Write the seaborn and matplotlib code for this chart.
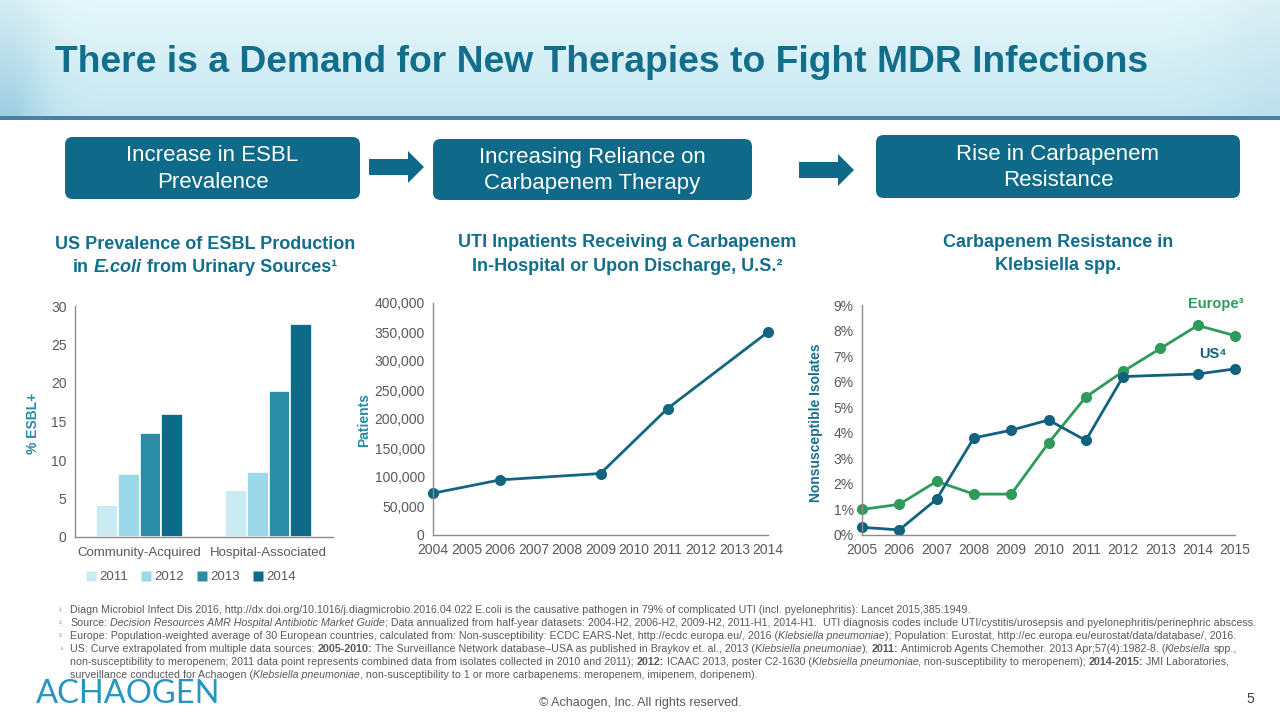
import numpy as np
import pandas as pd
import matplotlib
matplotlib.use("Agg")
import matplotlib.pyplot as plt
import seaborn as sns
from matplotlib.patches import FancyBboxPatch, Polygon, Rectangle
from matplotlib.ticker import FuncFormatter

# ---------------- data ----------------
esbl_categories = ["Community-Acquired", "Hospital-Associated"]
esbl_years = ["2011", "2012", "2013", "2014"]
esbl_community = [4.2, 8.2, 13.5, 16.0]
esbl_hospital = [6.1, 8.5, 19.0, 27.7]

uti_years = [2004, 2006, 2009, 2011, 2014]
uti_patients = [72000, 95000, 106000, 218000, 350000]

kleb_years_eu = [2005, 2006, 2007, 2008, 2009, 2010, 2011, 2012, 2013, 2014, 2015]
kleb_europe = [1.0, 1.2, 2.1, 1.6, 1.6, 3.6, 5.4, 6.4, 7.3, 8.2, 7.8]
kleb_years_us = [2005, 2006, 2007, 2008, 2009, 2010, 2011, 2012, 2014, 2015]
kleb_us = [0.3, 0.2, 1.4, 3.8, 4.1, 4.5, 3.7, 6.2, 6.3, 6.5]

# ---------------- style ----------------
sns.set_theme(style="white")
FAM = ["Liberation Sans", "DejaVu Sans"]
plt.rcParams["font.family"] = FAM

TEAL = "#0E6A88"
TITLE_C = "#136E8C"
TICK_C = "#595959"
SPINE_C = "#8C8C8C"
BAR_COLORS = {"2011": "#CBEBF3", "2012": "#9BD8EA", "2013": "#2A8CA5", "2014": "#0D6A88"}
EU_C = "#2E9A5C"
US_C = "#11617F"

W, H = 1280, 720
fig = plt.figure(figsize=(12.8, 7.2), dpi=100)
fig.patch.set_facecolor("white")


def fx(px):
    return px / W


def fy(py):
    return 1 - py / H


# ---------------- header background ----------------
hdr = fig.add_axes([0, fy(116), 1, 116 / H])
hdr.axis("off")
nx, ny = 256, 64
xs = np.linspace(0, 1, nx)
ys = np.linspace(0, 1, ny)
XX, YY = np.meshgrid(xs, ys)
top = np.array([0.90, 0.97, 0.98])
bot = np.array([0.78, 0.91, 0.95])
grad = top[None, None, :] * (1 - YY[..., None]) + bot[None, None, :] * YY[..., None]
edge = (np.exp(-((XX - 0.0) / 0.035) ** 2) * (0.4 + 0.6 * YY))[..., None] * np.array([-0.16, -0.10, -0.06])
edge2 = np.exp(-((XX - 1.0) / 0.05) ** 2)[..., None] * np.array([-0.04, -0.03, -0.02])
grad = np.clip(grad + edge + edge2, 0, 1)
hdr.imshow(grad, aspect="auto", extent=[0, 1, 0, 1], origin="upper")
hdr.set_xlim(0, 1)
hdr.set_ylim(0, 1)
fig.patches.append(Rectangle((0, fy(120)), 1, 4 / H, transform=fig.transFigure,
                             facecolor="#4A7FA2", edgecolor="none", zorder=3))

fig.text(fx(55), fy(62), "There is a Demand for New Therapies to Fight MDR Infections",
         fontsize=26.8, fontweight="bold", color=TITLE_C, va="center", ha="left")

# ---------------- flow boxes ----------------
boxes = [
    (65, 137, 295, 62, "Increase in ESBL\nPrevalence"),
    (433, 139, 319, 61, "Increasing Reliance on\nCarbapenem Therapy"),
    (876, 135, 364, 63, "Rise in Carbapenem\nResistance"),
]
for (x0, y0, w, h, label) in boxes:
    p = FancyBboxPatch((fx(x0), fy(y0 + h)), fx(w), h / H,
                       boxstyle="round,pad=0,rounding_size=0.006",
                       transform=fig.transFigure, facecolor=TEAL, edgecolor="none",
                       mutation_aspect=W / H)
    fig.patches.append(p)
    fig.text(fx(x0 + w / 2), fy(y0 + h / 2 + 1), label, color="white", fontsize=16,
             ha="center", va="center", linespacing=1.35)

for (ax0, ax1, cy) in [(369, 424, 167), (799, 854, 170)]:
    hw = 8
    hh = 16
    shaft_end = ax1 - 16
    pts = [(ax0, cy - hw), (shaft_end, cy - hw), (shaft_end, cy - hh), (ax1, cy),
           (shaft_end, cy + hh), (shaft_end, cy + hw), (ax0, cy + hw)]
    fig.patches.append(Polygon([(fx(a), fy(b)) for a, b in pts], closed=True,
                               transform=fig.transFigure, facecolor=TEAL,
                               edgecolor="none"))

# ---------------- segment text helper ----------------
renderer = fig.canvas.get_renderer()


def text_width(s, **kw):
    t = fig.text(0, 0, s, **kw)
    w = t.get_window_extent(renderer).width
    t.remove()
    return w


def draw_segments(x_px, y_px, segments, ha="left", **common):
    items = []
    total = 0.0
    for s, style in segments:
        kw = dict(common)
        kw.update(style)
        core = s.strip(" ")
        lead = len(s) - len(s.lstrip(" "))
        trail = len(s) - len(s.rstrip(" "))
        sp = text_width("x x", **kw) - text_width("xx", **kw)
        wcore = text_width(core, **kw) if core else 0.0
        items.append((core, kw, lead * sp, wcore, trail * sp))
        total += lead * sp + wcore + trail * sp
    if ha == "center":
        cur = x_px - total / 2
    else:
        cur = x_px
    for core, kw, l, wc, tr in items:
        cur += l
        if core:
            fig.text(fx(cur), fy(y_px), core, ha="left", va="baseline", **kw)
        cur += wc + tr


N = {}
B = {"fontweight": "bold"}
I = {"fontstyle": "italic"}

# ---------------- chart titles ----------------
tkw = dict(fontsize=13, color=TITLE_C, fontweight="bold")
draw_segments(205, 249, [("US Prevalence of ESBL Production", N)], ha="center", **tkw)
draw_segments(205, 272, [("in ", N), ("E.coli", I), (" from Urinary Sources¹", N)],
              ha="center", **tkw)
draw_segments(627, 247, [("UTI Inpatients Receiving a Carbapenem", N)], ha="center", **tkw)
draw_segments(627, 271, [("In-Hospital or Upon Discharge, U.S.²", N)], ha="center", **tkw)
draw_segments(1058, 247, [("Carbapenem Resistance in", N)], ha="center", **tkw)
draw_segments(1058, 270, [("Klebsiella spp.", N)], ha="center", **tkw)


def style_axes(ax):
    for s in ["top", "right"]:
        ax.spines[s].set_visible(False)
    for s in ["left", "bottom"]:
        ax.spines[s].set_color(SPINE_C)
        ax.spines[s].set_linewidth(1.0)
    ax.tick_params(axis="both", length=0, colors=TICK_C, labelsize=10, pad=6)
    ax.set_facecolor("none")
    ax.grid(False)


# ---------------- chart 1: bars ----------------
ax1 = fig.add_axes([fx(75), fy(537), fx(258), (537 - 306) / H])
df1 = pd.DataFrame({
    "category": [c for c in esbl_categories for _ in esbl_years],
    "year": esbl_years * 2,
    "value": esbl_community + esbl_hospital,
})
sns.barplot(data=df1, x="category", y="value", hue="year", palette=BAR_COLORS,
            width=0.68, ax=ax1, edgecolor="white", linewidth=1.2, saturation=1,
            legend=False)
style_axes(ax1)
ax1.set_ylim(0, 30)
ax1.set_yticks([0, 5, 10, 15, 20, 25, 30])
ax1.set_xlabel("")
ax1.set_ylabel("")
ax1.tick_params(axis="x", labelsize=9.5, pad=7)
ax1.set_xlim(-0.5, 1.5)
fig.text(fx(33), fy(423), "% ESBL+", rotation=90, ha="center", va="center",
         fontsize=10, fontweight="bold", color="#2A88A6")
handles = [plt.Line2D([], [], marker="s", linestyle="none", markersize=7,
                      markerfacecolor=BAR_COLORS[y], markeredgecolor="none")
           for y in esbl_years]
fig.legend(handles, esbl_years, loc="center", bbox_to_anchor=(fx(190), fy(577)),
           ncol=4, frameon=False, fontsize=9.5, handletextpad=0.1,
           columnspacing=0.9, labelcolor=TICK_C, handlelength=1.0)

# ---------------- chart 2: line ----------------
ax2 = fig.add_axes([fx(433), fy(535), fx(335), (535 - 303) / H])
sns.lineplot(x=uti_years, y=uti_patients, ax=ax2, color="#146680", linewidth=2,
             marker="o", markersize=8, markeredgewidth=0)
style_axes(ax2)
for ln in ax2.lines:
    ln.set_clip_on(False)
ax2.set_xlim(2004, 2014)
ax2.set_ylim(0, 400000)
ax2.set_xticks(list(range(2004, 2015)))
ax2.set_yticks(list(range(0, 400001, 50000)))
ax2.yaxis.set_major_formatter(FuncFormatter(lambda v, p: f"{v:,.0f}"))
fig.text(fx(364), fy(420), "Patients", rotation=90, ha="center", va="center",
         fontsize=10, fontweight="bold", color="#2A88A6")

# ---------------- chart 3: two lines ----------------
ax3 = fig.add_axes([fx(862), fy(535), fx(373), (535 - 305) / H])
sns.lineplot(x=kleb_years_eu, y=kleb_europe, ax=ax3, color=EU_C, linewidth=2,
             marker="o", markersize=8, markeredgewidth=0)
sns.lineplot(x=kleb_years_us, y=kleb_us, ax=ax3, color=US_C, linewidth=2,
             marker="o", markersize=8, markeredgewidth=0)
style_axes(ax3)
for ln in ax3.lines:
    ln.set_clip_on(False)
ax3.set_xlim(2005, 2015)
ax3.set_ylim(0, 9)
ax3.set_xticks(list(range(2005, 2016)))
ax3.set_yticks(list(range(0, 10)))
ax3.yaxis.set_major_formatter(FuncFormatter(lambda v, p: f"{v:.0f}%"))
fig.text(fx(816), fy(423), "Nonsusceptible Isolates", rotation=90, ha="center",
         va="center", fontsize=10, fontweight="bold", color="#1B6E8E")
draw_segments(1216, 308, [("Europe³", N)], ha="center", fontsize=10.5,
              fontweight="bold", color=EU_C)
draw_segments(1213, 358, [("US⁴", N)], ha="center", fontsize=10.5,
              fontweight="bold", color=US_C)

# ---------------- footnotes ----------------
FN = dict(fontsize=7.68, color=TICK_C)
foot_lines = [
    ("¹", [("Diagn Microbiol Infect Dis 2016, http://dx.doi.org/10.1016/j.diagmicrobio.2016.04.022 E.coli is the causative pathogen in 79% of complicated UTI (incl. pyelonephritis): Lancet 2015;385:1949.", N)]),
    ("².", [("Source: ", N), ("Decision Resources AMR Hospital Antibiotic Market Guide", I),
            ("; Data annualized from half-year datasets: 2004-H2, 2006-H2, 2009-H2, 2011-H1, 2014-H1.  UTI diagnosis codes include UTI/cystitis/urosepsis and pyelonephritis/perinephric abscess.", N)]),
    ("³", [("Europe: Population-weighted average of 30 European countries, calculated from: Non-susceptibility: ECDC EARS-Net, http://ecdc.europa.eu/, 2016 (", N),
           ("Klebsiella pneumoniae", I),
           ("); Population: Eurostat, http://ec.europa.eu/eurostat/data/database/, 2016.", N)]),
    ("⁴", [("US: Curve extrapolated from multiple data sources: ", N), ("2005-2010:", B),
           (" The Surveillance Network database–USA as published in Braykov et. al., 2013 (", N),
           ("Klebsiella pneumoniae", I), ("); ", N), ("2011:", B),
           (" Antimicrob Agents Chemother. 2013 Apr;57(4):1982-8. (", N), ("Klebsiella", I),
           (" spp.,", N)]),
    ("", [("non-susceptibility to meropenem; 2011 data point represents combined data from isolates collected in 2010 and 2011); ", N),
          ("2012:", B), (" ICAAC 2013, poster C2-1630 (", N), ("Klebsiella pneumoniae", I),
          (", non-susceptibility to meropenem); ", N), ("2014-2015:", B),
          (" JMI Laboratories,", N)]),
    ("", [("surveillance conducted for Achaogen (", N), ("Klebsiella pneumoniae", I),
          (", non-susceptibility to 1 or more carbapenems: meropenem, imipenem, doripenem).", N)]),
]
y0 = 613
for i, (mark, segs) in enumerate(foot_lines):
    yy = y0 + i * 13
    if mark:
        fig.text(fx(59), fy(yy), mark, fontsize=6, color="#8A8A8A", ha="left",
                 va="baseline")
    draw_segments(70, yy, segs, **FN)

# ---------------- footer ----------------
fig.text(fx(36), fy(703), "ACHAOGEN", fontsize=23.5, color="#2596C2",
         family=["Lato", "DejaVu Sans"], fontweight="normal", ha="left",
         va="baseline")
fig.text(fx(640), fy(706), "© Achaogen, Inc. All rights reserved.", fontsize=9,
         color=TICK_C, ha="center", va="baseline")
fig.text(fx(1254), fy(703), "5", fontsize=10, color="#404040", ha="right",
         va="baseline")

fig.savefig("out.png", dpi=100)
